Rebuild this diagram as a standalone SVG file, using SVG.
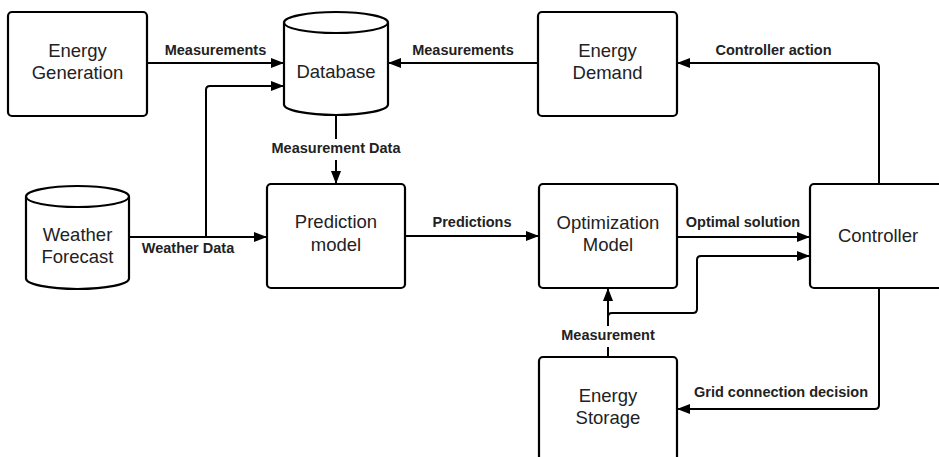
<svg xmlns="http://www.w3.org/2000/svg" width="939" height="457" viewBox="0 0 939 457">
<style>
.box{fill:#fff;stroke:#000;stroke-width:2.2}
.node{font-family:"Liberation Sans",Arial,sans-serif;font-size:18.5px;fill:#222;text-anchor:middle}
.lbl{font-family:"Liberation Sans",Arial,sans-serif;font-size:14.5px;font-weight:bold;fill:#222;text-anchor:middle}
.c{fill:none;stroke:#000;stroke-width:2}
</style>
<defs>
<marker id="ah" markerUnits="userSpaceOnUse" markerWidth="14" markerHeight="12" refX="13" refY="5" orient="auto">
<path d="M0,0 L13,5 L0,10 z" fill="#000"/>
</marker>
</defs>
<rect width="939" height="457" fill="#fff"/>

<g id="connectors">
<path class="c" d="M147,63 H284" marker-end="url(#ah)"/>
<path class="c" d="M129,237 H267" marker-end="url(#ah)"/>
<path class="c" d="M206,237 V90 Q206,86 210,86 H284" marker-end="url(#ah)"/>
<path class="c" d="M336,115 V139"/>
<path class="c" d="M336,160 V184" marker-end="url(#ah)"/>
<path class="c" d="M538,63 H388" marker-end="url(#ah)"/>
<path class="c" d="M405,236 H539" marker-end="url(#ah)"/>
<path class="c" d="M677,237 H810" marker-end="url(#ah)"/>
<path class="c" d="M879,184 V67 Q879,63 875,63 H677" marker-end="url(#ah)"/>
<path class="c" d="M608,357 V347"/>
<path class="c" d="M608,326 V288" marker-end="url(#ah)"/>
<path class="c" d="M608,317 Q608,313 612,313 H693 Q697,313 697,309 V260 Q697,256 701,256 H810" marker-end="url(#ah)"/>
<path class="c" d="M879,288 V405 Q879,409 875,409 H677" marker-end="url(#ah)"/>
<text class="lbl" x="215.5" y="55">Measurements</text>
<text class="lbl" x="463" y="55">Measurements</text>
<text class="lbl" x="773.5" y="55">Controller action</text>
<text class="lbl" x="336" y="153">Measurement Data</text>
<text class="lbl" x="188" y="253">Weather Data</text>
<text class="lbl" x="472" y="227">Predictions</text>
<text class="lbl" x="743" y="227">Optimal solution</text>
<text class="lbl" x="608" y="340">Measurement</text>
<text class="lbl" x="781" y="397">Grid connection decision</text>
</g>

<g id="energy-generation">
<rect class="box" x="8" y="12" width="139" height="104" rx="4"/>
<text class="node" x="77.5" y="57">Energy</text>
<text class="node" x="77.5" y="79">Generation</text>
</g>

<g id="database">
<path class="box" d="M284,22.5 A52,10.5 0 0 1 388,22.5 V104.5 A52,10.5 0 0 1 284,104.5 Z"/>
<path class="c" d="M284,22.5 A52,10.5 0 0 0 388,22.5" stroke-width="2.2"/>
<text class="node" x="336" y="78">Database</text>
</g>

<g id="weather-forecast">
<path class="box" d="M26,196.5 A51.5,10.5 0 0 1 129,196.5 V278.5 A51.5,10.5 0 0 1 26,278.5 Z"/>
<path class="c" d="M26,196.5 A51.5,10.5 0 0 0 129,196.5" stroke-width="2.2"/>
<text class="node" x="77.5" y="241">Weather</text>
<text class="node" x="77.5" y="263">Forecast</text>
</g>

<g id="prediction-model">
<rect class="box" x="267" y="184" width="138" height="104" rx="4"/>
<text class="node" x="336" y="228">Prediction</text>
<text class="node" x="336" y="251">model</text>
</g>

<g id="energy-demand">
<rect class="box" x="538" y="12" width="139" height="104" rx="4"/>
<text class="node" x="607.5" y="57">Energy</text>
<text class="node" x="607.5" y="79">Demand</text>
</g>

<g id="optimization-model">
<rect class="box" x="539" y="184" width="138" height="104" rx="4"/>
<text class="node" x="608" y="229">Optimization</text>
<text class="node" x="608" y="251">Model</text>
</g>

<g id="controller">
<rect class="box" x="810" y="184" width="139" height="104" rx="4"/>
<text class="node" x="878" y="242">Controller</text>
</g>

<g id="energy-storage">
<rect class="box" x="539" y="357" width="138" height="104" rx="4"/>
<text class="node" x="608" y="402">Energy</text>
<text class="node" x="608" y="424">Storage</text>
</g>
</svg>
